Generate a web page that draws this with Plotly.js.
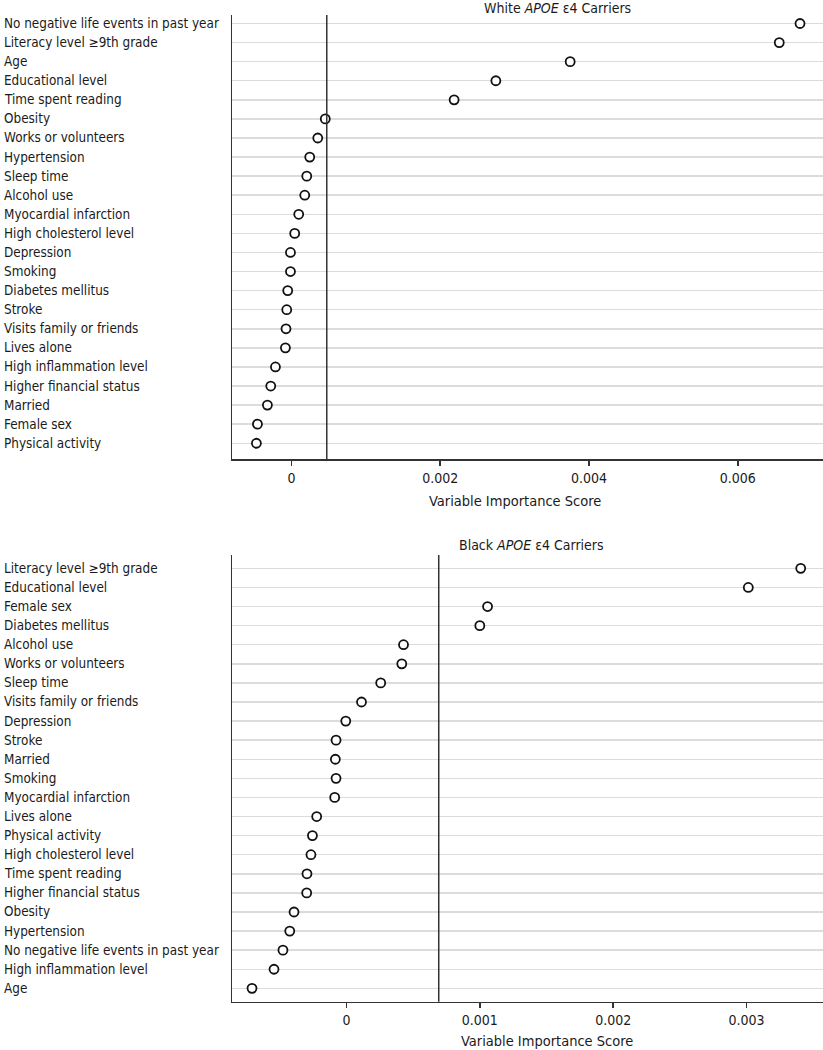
<!DOCTYPE html>
<html>
<head>
<meta charset="utf-8">
<script src="https://cdn.plot.ly/plotly-3.0.1.min.js"></script>
<style>html,body{margin:0;padding:0;background:#fff;}#chart{width:823px;height:1050px;}</style>
</head>
<body>
<div id="chart"></div>
<script>
// ---- Data ----
const whiteTitle = "White <i>APOE</i> ε4 Carriers";
const blackTitle = "Black <i>APOE</i> ε4 Carriers";
const xAxisTitle = "Variable Importance Score";

const whiteVariables = [
  "No negative life events in past year", "Literacy level ≥9th grade", "Age",
  "Educational level", "Time spent reading", "Obesity", "Works or volunteers",
  "Hypertension", "Sleep time", "Alcohol use", "Myocardial infarction",
  "High cholesterol level", "Depression", "Smoking", "Diabetes mellitus",
  "Stroke", "Visits family or friends", "Lives alone", "High inflammation level",
  "Higher financial status", "Married", "Female sex", "Physical activity"
];
const whiteScores = [
  0.006837, 0.006558, 0.003747, 0.002748, 0.002187, 0.000455, 0.000354,
  0.000246, 0.000206, 0.000179, 0.000098, 0.000044, -0.000013, -0.000013,
  -0.000050, -0.000063, -0.000073, -0.000081, -0.000215, -0.000278,
  -0.000323, -0.000457, -0.000471
];
const whiteThreshold = 0.000475;
const whiteTickVals = [0, 0.002, 0.004, 0.006];
const whiteTickText = ["0", "0.002", "0.004", "0.006"];

const blackVariables = [
  "Literacy level ≥9th grade", "Educational level", "Female sex",
  "Diabetes mellitus", "Alcohol use", "Works or volunteers", "Sleep time",
  "Visits family or friends", "Depression", "Stroke", "Married", "Smoking",
  "Myocardial infarction", "Lives alone", "Physical activity",
  "High cholesterol level", "Time spent reading", "Higher financial status",
  "Obesity", "Hypertension", "No negative life events in past year",
  "High inflammation level", "Age"
];
const blackScores = [
  0.003406, 0.003013, 0.001058, 0.001000, 0.000428, 0.000415, 0.000257,
  0.000113, -0.000005, -0.000078, -0.000083, -0.000078, -0.000088,
  -0.000223, -0.000255, -0.000266, -0.000296, -0.000298, -0.000393,
  -0.000425, -0.000476, -0.000543, -0.000708
];
const blackThreshold = 0.000692;
const blackTickVals = [0, 0.001, 0.002, 0.003];
const blackTickText = ["0", "0.001", "0.002", "0.003"];

// ---- Layout helpers ----
const W = 823, H = 1050, L = 232, PW = W - L;
const FONT = "'DejaVu Sans Condensed', 'Liberation Sans Narrow', sans-serif";
const TXT = "#1a1a1a";
const px2x = p => (p - L) / PW;
const px2y = p => 1 - p / H;

function idx(arr) { return arr.map((_, i) => i); }

const markerStyle = {
  symbol: "circle", size: 9, color: "#ffffff",
  line: { color: "#111111", width: 1.8 }
};

const traces = [
  {
    type: "scatter", mode: "markers", x: whiteScores, y: idx(whiteVariables),
    xaxis: "x", yaxis: "y", marker: markerStyle, text: whiteVariables,
    hoverinfo: "text+x", cliponaxis: false
  },
  {
    type: "scatter", mode: "markers", x: blackScores, y: idx(blackVariables),
    xaxis: "x2", yaxis: "y2", marker: markerStyle, text: blackVariables,
    hoverinfo: "text+x", cliponaxis: false
  }
];

function xAxis(range, vals, text, anchor) {
  return {
    anchor: anchor, domain: [0, 1], range: range,
    tickmode: "array", tickvals: vals, ticktext: text,
    ticks: "outside", ticklen: 5, tickwidth: 1.5, tickcolor: "#333",
    showline: true, linecolor: "#333", linewidth: 1.5,
    showgrid: false, zeroline: false,
    tickfont: { family: FONT, size: 14, color: TXT }
  };
}
function yAxis(range, n, domain, anchor) {
  return {
    anchor: anchor, domain: domain, range: range,
    tickmode: "array", tickvals: Array.from({length: n}, (_, i) => i),
    showticklabels: false, ticks: "",
    showgrid: true, gridcolor: "#dcdcdc", gridwidth: 1.5,
    showline: true, linecolor: "#333", linewidth: 1.5,
    zeroline: false
  };
}

const annotations = [];
function addLabels(vars, yref) {
  vars.forEach((v, i) => {
    annotations.push({
      text: v, xref: "paper", yref: yref, x: px2x(2), y: i,
      xanchor: "left", yanchor: "middle", showarrow: false,
      font: { family: FONT, size: 13.4, color: TXT }
    });
  });
}
addLabels(whiteVariables, "y");
addLabels(blackVariables, "y2");

function addText(t, cx, cy, size) {
  annotations.push({
    text: t, xref: "paper", yref: "paper", x: px2x(cx), y: px2y(cy),
    xanchor: "center", yanchor: "middle", showarrow: false,
    font: { family: FONT, size: size, color: TXT }
  });
}
addText(whiteTitle, 557.5, 8.5, 14);
addText(blackTitle, 531.5, 545, 14);
addText(xAxisTitle, 515, 500.5, 14.5);
addText(xAxisTitle, 547, 1041, 14.5);

const shapes = [
  { type: "line", xref: "x", yref: "y domain", x0: whiteThreshold, x1: whiteThreshold,
    y0: 0, y1: 1, line: { color: "#333", width: 1.5 } },
  { type: "line", xref: "x2", yref: "y2 domain", x0: blackThreshold, x1: blackThreshold,
    y0: 0, y1: 1, line: { color: "#333", width: 1.5 } }
];

const layout = {
  width: W, height: H,
  margin: { l: L, r: 0, t: 0, b: 0, pad: 0 },
  paper_bgcolor: "#fff", plot_bgcolor: "#fff",
  showlegend: false,
  font: { family: FONT, color: TXT },
  xaxis: xAxis([-0.000799, 0.007146], whiteTickVals, whiteTickText, "y"),
  yaxis: yAxis([22.84, -0.445], whiteVariables.length, [px2y(459.3), px2y(15)], "x"),
  xaxis2: xAxis([-0.000858, 0.003573], blackTickVals, blackTickText, "y2"),
  yaxis2: yAxis([22.70, -0.70], blackVariables.length, [px2y(1001.7), px2y(555)], "x2"),
  annotations: annotations,
  shapes: shapes
};

Plotly.newPlot("chart", traces, layout, { displayModeBar: false, staticPlot: true });
</script>
</body>
</html>
